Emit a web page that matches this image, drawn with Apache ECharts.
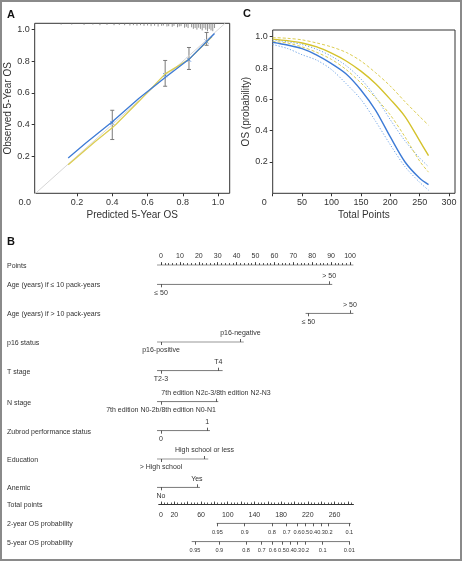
<!DOCTYPE html>
<html><head><meta charset="utf-8">
<script src="https://cdn.jsdelivr.net/npm/echarts@6/dist/echarts.min.js"></script>
<style>html,body{margin:0;padding:0;background:#fff}#c{width:463px;height:561px}</style>
</head><body><div id="c"></div>
<script>
// ---------------- Panel A: calibration ----------------
const calBlueX   = [0.15, 0.25, 0.40, 0.55, 0.70, 0.835, 0.935, 0.98];
const calBlueY   = [0.188, 0.283, 0.418, 0.565, 0.697, 0.812, 0.925, 0.975];
const calYellowX = [0.15, 0.30, 0.405, 0.42, 0.55, 0.70, 0.835, 0.935, 0.965];
const calYellowY = [0.145, 0.29, 0.385, 0.40, 0.545, 0.72, 0.812, 0.922, 0.955];
const idealLine  = [-0.04, 1.04];
const errX  = [0.40, 0.70, 0.835, 0.935];
const errLo = [0.305, 0.642, 0.748, 0.901];
const errHi = [0.49, 0.805, 0.887, 0.982];
const obsY  = [0.41, 0.712, 0.81, 0.925];
const rugX = [0.11,0.17,0.24,0.29,0.33,0.37,0.41,0.44,0.47,0.50,0.52,0.54,0.56,0.58,0.60,0.62,0.64,0.66,0.68,0.69,0.71,0.72,0.74,0.75,0.77,0.78,0.79,0.81,0.82,0.83,0.85,0.86,0.87,0.88,0.89,0.90,0.91,0.92,0.93,0.94,0.95,0.96,0.97,0.98];
const rugH = [0.008,0.008,0.01,0.008,0.012,0.01,0.012,0.01,0.012,0.014,0.012,0.015,0.012,0.016,0.014,0.018,0.015,0.02,0.016,0.014,0.02,0.018,0.022,0.016,0.025,0.02,0.018,0.028,0.022,0.03,0.025,0.035,0.03,0.04,0.028,0.035,0.045,0.03,0.04,0.05,0.035,0.045,0.05,0.03];
const aXLabels = [0, 0.2, 0.4, 0.6, 0.8, 1.0];
const aTicks   = [0.2, 0.4, 0.6, 0.8, 1.0];

// ---------------- Panel C: OS vs total points ----------------
const cTotalPts = [0, 25, 50, 75, 100, 125, 150, 175, 200, 225, 250, 265];
const os2    = [0.985, 0.975, 0.96, 0.935, 0.895, 0.845, 0.78, 0.70, 0.60, 0.49, 0.335, 0.24];
const os2Hi  = [0.995, 0.99, 0.98, 0.96, 0.935, 0.90, 0.845, 0.77, 0.685, 0.585, 0.49, 0.435];
const os2Lo  = [0.97, 0.96, 0.935, 0.90, 0.855, 0.79, 0.705, 0.61, 0.50, 0.36, 0.205, 0.135];
const os5    = [0.965, 0.947, 0.924, 0.883, 0.828, 0.762, 0.66, 0.53, 0.36, 0.20, 0.096, 0.056];
const os5Hi  = [0.98, 0.968, 0.95, 0.92, 0.875, 0.815, 0.73, 0.615, 0.47, 0.335, 0.225, 0.17];
const os5Lo  = [0.95, 0.925, 0.885, 0.85, 0.79, 0.70, 0.60, 0.46, 0.31, 0.17, 0.07, 0.02];
const cXTicks = [0, 50, 100, 150, 200, 250, 300];
const cYTicks = [0.2, 0.4, 0.6, 0.8, 1.0];

// ---------------- Panel B: nomogram ----------------
const pointsLabels = [0,10,20,30,40,50,60,70,80,90,100];
const pointsMinor  = [0,2,4,6,8,10,12,14,16,18,20,22,24,26,28,30,32,34,36,38,40,42,44,46,48,50,52,54,56,58,60,62,64,66,68,70,72,74,76,78,80,82,84,86,88,90,92,94,96,98,100];
const rowNames = ['Points','Age (years) if \u2264 10 pack-years','Age (years) if > 10 pack-years','p16 status','T stage','N stage','Zubrod performance status','Education','Anemic','Total points','2-year OS probability','5-year OS probability'];
const catLevels = [
  ['\u2264 50', '> 50'],
  ['\u2264 50', '> 50'],
  ['p16-positive', 'p16-negative'],
  ['T2-3', 'T4'],
  ['7th edition N0-2b/8th edition N0-N1', '7th edition N2c-3/8th edition N2-N3'],
  ['0', '1'],
  ['> High school', 'High school or less'],
  ['No', 'Yes']
];
const catPoints = [[0, 89], [78, 100], [0, 42], [0, 30.3], [0, 29.1], [0, 24.5], [0, 23], [0, 19]];
const catSide   = [['below','above'],['below','above'],['below','above'],['below','above'],['below','above'],['below','above'],['below','above'],['below','above']];
const catLineLo = [-2.1, 76.5, -2.1, -2.1, -2.1, -2.1, -2.1, -2.1];
const catLineHi = [90.6, 101.8, 43.8, 32.6, 30.3, 25.9, 25.0, 20.6];
const pointsLine = [-2.1, 101.8];
const totalLabels = [0, 20, 60, 100, 140, 180, 220, 260];
const totalTicksMajor = [0,20,40,60,80,100,120,140,160,180,200,220,240,260,280];
const totalTicksMinor = [];
for (let v = 0; v <= 285; v += 5) totalTicksMinor.push(v);
const totalLine = [-4, 289];
const os2Probs = ['0.95','0.9','0.8','0.7','0.6','0.5','0.4','0.3','0.2','0.1'];
const os2TP    = [84.4, 125.4, 166.3, 188.4, 204.3, 216.2, 228.2, 239.8, 251.3, 282.2];
const os2Line  = [83.5, 284.3];
const os5Probs = ['0.95','0.9','0.8','0.7','0.6','0.5','0.4','0.3','0.2','0.1','0.01'];
const os5TP    = [51, 87.4, 127.4, 150.9, 167.4, 181.3, 193.3, 204.3, 216.2, 242.3, 282.2];
const os5Line  = [46, 283.2];

// ---------------- layout ----------------
const FONT = 'Liberation Sans, Arial, sans-serif';
const TXT = '#333';
const BLUE = '#3d7bd6', BLUE_L = '#6ea3e6', YEL = '#d4c22c', YEL_L = '#dccd52';
const NOMO_LEFT = 157, NOMO_WIDTH = 197, PT0 = 161, PX_PT = 1.89, PX_TP = 0.6673;
const ptsMin = (NOMO_LEFT - PT0) / PX_PT, ptsMax = (NOMO_LEFT + NOMO_WIDTH - PT0) / PX_PT;
const tpMin = (NOMO_LEFT - PT0) / PX_TP, tpMax = (NOMO_LEFT + NOMO_WIDTH - PT0) / PX_TP;
const rowY = [265, 284.3, 313.3, 342, 370.7, 401.7, 430.7, 459, 487.3, 504.5, 523.3, 541.7];

const grid = [], xAxis = [], yAxis = [], series = [];
const ax = (o) => Object.assign({type:'value', splitLine:{show:false}, axisLine:{show:false, onZero:false}}, o);

// Panel A
grid.push({left:34.7, top:23.3, width:195, height:170, show:true, borderColor:'#333', borderWidth:1});
xAxis.push(ax({gridIndex:0, min:-0.04, max:1.066,
  axisTick:{show:true, customValues:aTicks, length:3, lineStyle:{color:'#333'}},
  axisLabel:{customValues:aXLabels, margin:5, fontSize:9, color:TXT, fontFamily:FONT,
    formatter:v => v === 0 ? '{o|0.0}' : v.toFixed(1),
    rich:{o:{fontSize:9, color:TXT, fontFamily:FONT, padding:[0,34,0,0]}}},
  name:'Predicted 5-Year OS', nameLocation:'middle', nameGap:17,
  nameTextStyle:{fontSize:10, color:TXT, fontFamily:FONT}}));
yAxis.push(ax({gridIndex:0, min:-0.035, max:1.04,
  axisTick:{show:true, customValues:aTicks, length:3, lineStyle:{color:'#333'}},
  axisLabel:{customValues:aTicks, margin:5, fontSize:9, color:TXT, fontFamily:FONT, formatter:v => v.toFixed(1)},
  name:'Observed 5-Year OS', nameLocation:'middle', nameGap:18,
  nameTextStyle:{fontSize:10, color:TXT, fontFamily:FONT}}));

series.push({type:'line', xAxisIndex:0, yAxisIndex:0, symbol:'none', silent:true,
  data: idealLine.map(v => [v, v]), lineStyle:{color:'#d6d6d6', width:1}});
series.push({type:'custom', xAxisIndex:0, yAxisIndex:0, silent:true,
  data: rugX.map((x, i) => [x, rugH[i]]),
  renderItem(p, api) {
    const top = api.coord([api.value(0), 1.04]);
    const bot = api.coord([api.value(0), 1.04 - api.value(1)]);
    return {type:'line', shape:{x1:top[0], y1:top[1], x2:bot[0], y2:bot[1]}, style:{stroke:'#777', lineWidth:0.8}};
  }});
series.push({type:'line', xAxisIndex:0, yAxisIndex:0, symbol:'none', silent:true,
  data: calYellowX.map((x, i) => [x, calYellowY[i]]), lineStyle:{color:YEL_L, width:1.3}});
series.push({type:'line', xAxisIndex:0, yAxisIndex:0, symbol:'none', silent:true,
  data: calBlueX.map((x, i) => [x, calBlueY[i]]), lineStyle:{color:BLUE, width:1.3}});
series.push({type:'custom', xAxisIndex:0, yAxisIndex:0, silent:true,
  data: errX.map((x, i) => [x, errLo[i], errHi[i]]),
  renderItem(p, api) {
    const a = api.coord([api.value(0), api.value(1)]);
    const b = api.coord([api.value(0), api.value(2)]);
    const s = {stroke:'#7a7a7a', lineWidth:1};
    return {type:'group', children:[
      {type:'line', shape:{x1:a[0], y1:a[1], x2:b[0], y2:b[1]}, style:s},
      {type:'line', shape:{x1:a[0]-2, y1:a[1], x2:a[0]+2, y2:a[1]}, style:s},
      {type:'line', shape:{x1:b[0]-2, y1:b[1], x2:b[0]+2, y2:b[1]}, style:s}
    ]};
  }});
series.push({type:'scatter', xAxisIndex:0, yAxisIndex:0, silent:true, symbol:'path://M0,0L10,10M10,0L0,10',
  symbolSize:4, data: errX.map((x, i) => [x, obsY[i]]),
  itemStyle:{color:'none', borderColor:BLUE, borderWidth:1}});

// Panel C
grid.push({left:272.7, top:30, width:182.3, height:163.3, show:true, borderColor:'#333', borderWidth:1});
xAxis.push(ax({gridIndex:1, min:0, max:310,
  axisTick:{show:true, customValues:cXTicks, length:3, lineStyle:{color:'#333'}},
  axisLabel:{customValues:cXTicks, margin:5, fontSize:9, color:TXT, fontFamily:FONT,
    formatter:v => v === 0 ? '{o|0}' : String(v),
    rich:{o:{fontSize:9, color:TXT, fontFamily:FONT, padding:[0,17,0,0]}}},
  name:'Total Points', nameLocation:'middle', nameGap:17,
  nameTextStyle:{fontSize:10, color:TXT, fontFamily:FONT}}));
yAxis.push(ax({gridIndex:1, min:0, max:1.043,
  axisTick:{show:true, customValues:cYTicks, length:3, lineStyle:{color:'#333'}},
  axisLabel:{customValues:cYTicks, margin:5, fontSize:9, color:TXT, fontFamily:FONT, formatter:v => v.toFixed(1)},
  name:'OS (probability)', nameLocation:'middle', nameGap:19,
  nameTextStyle:{fontSize:10, color:TXT, fontFamily:FONT}}));
const cLine = (vals, color, type, w) => series.push({type:'line', xAxisIndex:1, yAxisIndex:1, symbol:'none', silent:true, smooth:0.3,
  data: cTotalPts.map((t, i) => [t, vals[i]]), lineStyle:{color, type, width:w}});
cLine(os5Lo, BLUE_L, [1.2, 1.8], 1);
cLine(os5Hi, BLUE_L, [1.2, 1.8], 1);
cLine(os2Lo, YEL_L, [3, 2], 1);
cLine(os2Hi, YEL_L, [3, 2], 1);
cLine(os5, BLUE, 'solid', 1.4);
cLine(os2, YEL, 'solid', 1.4);

// Nomogram rows
const NF = 7, PF = 5.6;
function nomoRow(k, min, max, line, bottomCfg, topCfg) {
  const g = grid.length;
  grid.push({left:NOMO_LEFT, width:NOMO_WIDTH, top:rowY[k], height:0});
  yAxis.push({gridIndex:g, type:'value', min:0, max:1, show:false});
  const bi = xAxis.length;
  [bottomCfg, topCfg].forEach((c, j) => {
    xAxis.push(ax({gridIndex:g, position: j === 0 ? 'bottom' : 'top', min, max,
      axisTick: c && c.ticks ? {show:true, customValues:c.ticks, length:c.len || 3, inside:!!c.inside, lineStyle:{color:'#333', width:0.8}} : {show:false},
      axisLabel: c && c.labels ? {show:true, customValues:c.labels, margin:c.margin || 5, fontSize:c.fs || NF, color:TXT, fontFamily:FONT, formatter:c.fmt} : {show:false}
    }));
  });
  series.push({type:'line', xAxisIndex:bi, yAxisIndex:yAxis.length - 1, symbol:'none', silent:true,
    data:[[line[0], 0], [line[1], 0]], lineStyle:{color:'#333', width:1}});
  return bi;
}
// Points
nomoRow(0, ptsMin, ptsMax, pointsLine, {ticks:pointsMinor, len:2, inside:true}, {ticks:pointsLabels, len:3, labels:pointsLabels, margin:5, fmt:v => String(v)});
// categorical rows
catLevels.forEach((lv, r) => {
  const pts = catPoints[r];
  const below = pts.filter((v, i) => catSide[r][i] === 'below');
  const above = pts.filter((v, i) => catSide[r][i] === 'above');
  const fmt = v => lv[pts.indexOf(v)];
  nomoRow(r + 1, ptsMin, ptsMax, [catLineLo[r], catLineHi[r]],
    below.length ? {ticks:below, len:3, labels:below, margin:5, fmt} : null,
    above.length ? {ticks:above, len:3, labels:above, margin:5, fmt} : null);
});
// Total points
nomoRow(9, tpMin, tpMax, totalLine, {ticks:totalTicksMinor, len:2, inside:true, labels:totalLabels, margin:7, fmt:v => String(v)}, {ticks:totalTicksMajor, len:3});
// Probability rows
const near = (arr, v) => arr.findIndex(a => Math.abs(a - v) < 1e-6);
nomoRow(10, tpMin, tpMax, os2Line, {ticks:os2TP, len:3, labels:os2TP, margin:6, fs:PF, fmt:v => os2Probs[near(os2TP, v)]}, null);
nomoRow(11, tpMin, tpMax, os5Line, {ticks:os5TP, len:3, labels:os5TP, margin:6, fs:PF, fmt:v => os5Probs[near(os5TP, v)]}, null);

// graphic: frame, panel letters, row names
const graphic = [
  {type:'rect', shape:{x:1, y:1, width:460, height:559}, style:{fill:'none', stroke:'#8a8a8a', lineWidth:2}, silent:true},
  {type:'text', x:7, y:15, style:{text:'A', font:'bold 11px ' + FONT, fill:'#111', verticalAlign:'middle'}},
  {type:'text', x:243, y:14, style:{text:'C', font:'bold 11px ' + FONT, fill:'#111', verticalAlign:'middle'}},
  {type:'text', x:7, y:242, style:{text:'B', font:'bold 11px ' + FONT, fill:'#111', verticalAlign:'middle'}}
];
rowNames.forEach((n, k) => graphic.push({type:'text', x:7, y:rowY[k] + 1,
  style:{text:n, font:NF + 'px ' + FONT, fill:TXT, verticalAlign:'middle'}}));

const chart = echarts.init(document.getElementById('c'), null, {renderer:'canvas'});
chart.setOption({animation:false, backgroundColor:'#fff', grid, xAxis, yAxis, series, graphic});
</script></body></html>
